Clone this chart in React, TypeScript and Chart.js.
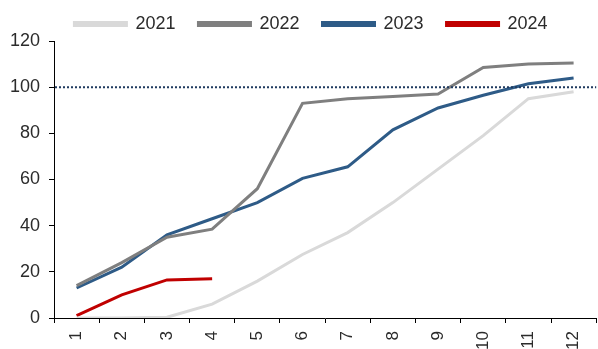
import React, { useEffect, useRef } from "react";
import { Chart, registerables } from "chart.js";

Chart.register(...registerables);

const categories = ["1", "2", "3", "4", "5", "6", "7", "8", "9", "10", "11", "12"];
const s2021 = [0, 0, 0.3, 6, 16, 27.5, 37, 50, 64.5, 79, 95, 98];
const s2022 = [14, 24, 35, 38.5, 56, 93, 95, 96, 97, 108.5, 110, 110.5];
const s2023 = [13, 22, 36, 43, 50, 60.5, 65.5, 81.5, 91, 96.5, 101.5, 104];
const s2024 = [1, 10, 16.5, 17, null, null, null, null, null, null, null, null];
const yTicks = [0, 20, 40, 60, 80, 100, 120];
const referenceLevel = 100;

const FONT = "'Liberation Sans', Arial, sans-serif";
const TEXT = "#2b2b2b";

const refLinePlugin = {
  id: "refLine",
  afterLayout(chart: any) {
    const lg = chart.legend;
    if (lg) {
      lg.left += 10;
      lg.right += 10;
      lg.top += 2;
      lg.bottom += 2;
    }
  },
  afterDatasetsDraw(chart: any) {
    const { ctx, chartArea, scales } = chart;
    const y = scales.y.getPixelForValue(referenceLevel);
    ctx.save();
    ctx.strokeStyle = "#1f3a5f";
    ctx.lineWidth = 2;
    ctx.setLineDash([2, 2]);
    ctx.beginPath();
    ctx.moveTo(chartArea.left + 1, y);
    ctx.lineTo(chartArea.right, y);
    ctx.stroke();
    ctx.restore();
  },
};

export default function App() {
  const ref = useRef<HTMLCanvasElement>(null);
  useEffect(() => {
    const mk = (label: string, data: any[], color: string) => ({
      label,
      data,
      borderColor: color,
      backgroundColor: color,
      borderWidth: 3,
      pointRadius: 0,
      tension: 0,
      spanGaps: false,
    });
    const chart = new Chart(ref.current!, {
      type: "line",
      data: {
        labels: categories,
        datasets: [
          mk("2021", s2021, "#d9d9d9"),
          mk("2022", s2022, "#7f7f7f"),
          mk("2023", s2023, "#2e5b87"),
          mk("2024", s2024, "#c00000"),
        ],
      },
      plugins: [refLinePlugin],
      options: {
        animation: false,
        responsive: true,
        maintainAspectRatio: false,
        layout: { padding: { top: -10, right: 0, left: 0, bottom: 0 } },
        plugins: {
          tooltip: { enabled: false },
          legend: {
            position: "top",
            labels: {
              boxWidth: 52,
              boxHeight: 3,
              padding: 23,
              color: TEXT,
              font: { family: FONT, size: 18 },
            },
          },
        },
        scales: {
          x: {
            offset: true,
            grid: {
              display: true,
              offset: true,
              drawOnChartArea: false,
              drawTicks: true,
              tickLength: 5,
              color: "#000",
            },
            border: { display: true, color: "#000", width: 1 },
            ticks: {
              minRotation: 90,
              maxRotation: 90,
              padding: 8,
              color: TEXT,
              font: { family: FONT, size: 17 },
            },
            afterFit: (s: any) => {
              s.height = 31;
            },
          },
          y: {
            min: 0,
            max: 120,
            afterBuildTicks: (s: any) => {
              s.ticks = yTicks.map((v) => ({ value: v }));
            },
            grid: {
              display: true,
              drawOnChartArea: false,
              drawTicks: true,
              tickLength: 5,
              color: "#000",
            },
            border: { display: true, color: "#000", width: 1 },
            ticks: {
              padding: 9,
              color: TEXT,
              font: { family: FONT, size: 18 },
            },
            afterFit: (s: any) => {
              s.width = 54;
            },
          },
        },
      },
    });
    return () => chart.destroy();
  }, []);
  return (
    <div style={{ position: "fixed", left: 0, top: 0, width: 598, height: 349, overflow: "hidden", background: "#fff" }}>
      <div style={{ position: "relative", width: 602, height: 349 }}>
        <canvas ref={ref} />
      </div>
    </div>
  );
}
